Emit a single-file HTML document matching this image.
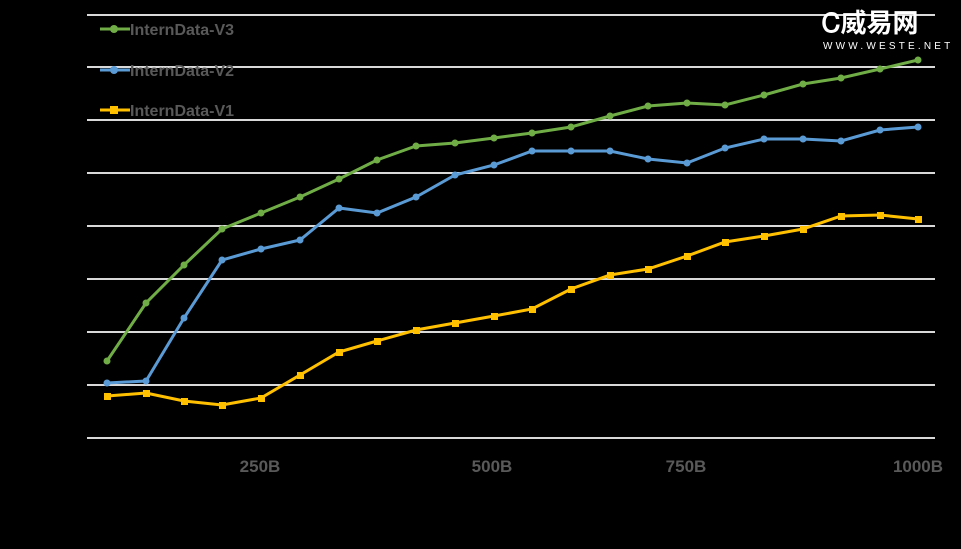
<!DOCTYPE html>
<html><head><meta charset="utf-8"><style>
html,body{margin:0;padding:0;background:#000;}
svg{display:block}
</style></head><body>
<svg width="961" height="549" viewBox="0 0 961 549" xmlns="http://www.w3.org/2000/svg" font-family="Liberation Sans, sans-serif">
<rect width="961" height="549" fill="#000"/>
<g stroke="#d9d9d9" stroke-width="2">
<line x1="87" y1="15" x2="935" y2="15"/>
<line x1="87" y1="67" x2="935" y2="67"/>
<line x1="87" y1="120" x2="935" y2="120"/>
<line x1="87" y1="173" x2="935" y2="173"/>
<line x1="87" y1="226" x2="935" y2="226"/>
<line x1="87" y1="279" x2="935" y2="279"/>
<line x1="87" y1="332" x2="935" y2="332"/>
<line x1="87" y1="385" x2="935" y2="385"/>
<line x1="87" y1="438" x2="935" y2="438"/>
</g>
<g font-size="17" fill="#595959" text-anchor="middle" font-weight="bold">
<text x="260" y="472">250B</text>
<text x="492" y="472">500B</text>
<text x="686" y="472">750B</text>
<text x="918" y="472">1000B</text>
</g>
<polyline fill="none" stroke="#ffc000" stroke-width="3" points="107,396 146,393 184,401 222,405 261,398 300,375 339,352 377,341 416,330 455,323 494,316 532,309 571,289 610,275 648,269 687,256 725,242 764,236 803,229 841,216 880,215 918,219"/>
<polyline fill="none" stroke="#5b9bd5" stroke-width="3" points="107,383 146,381 184,318 222,260 261,249 300,240 339,208 377,213 416,197 455,175 494,165 532,151 571,151 610,151 648,159 687,163 725,148 764,139 803,139 841,141 880,130 918,127"/>
<polyline fill="none" stroke="#70ad47" stroke-width="3" points="107,361 146,303 184,265 222,229 261,213 300,197 339,179 377,160 416,146 455,143 494,138 532,133 571,127 610,116 648,106 687,103 725,105 764,95 803,84 841,78 880,69 918,60"/>
<g fill="#ffc000">
<rect x="104" y="393" width="7" height="7"/><rect x="143" y="390" width="7" height="7"/><rect x="181" y="398" width="7" height="7"/><rect x="219" y="402" width="7" height="7"/><rect x="258" y="395" width="7" height="7"/><rect x="297" y="372" width="7" height="7"/><rect x="336" y="349" width="7" height="7"/><rect x="374" y="338" width="7" height="7"/><rect x="413" y="327" width="7" height="7"/><rect x="452" y="320" width="7" height="7"/><rect x="491" y="313" width="7" height="7"/><rect x="529" y="306" width="7" height="7"/><rect x="568" y="286" width="7" height="7"/><rect x="607" y="272" width="7" height="7"/><rect x="645" y="266" width="7" height="7"/><rect x="684" y="253" width="7" height="7"/><rect x="722" y="239" width="7" height="7"/><rect x="761" y="233" width="7" height="7"/><rect x="800" y="226" width="7" height="7"/><rect x="838" y="213" width="7" height="7"/><rect x="877" y="212" width="7" height="7"/><rect x="915" y="216" width="7" height="7"/>
</g>
<g fill="#5b9bd5">
<circle cx="107" cy="383" r="3.5"/><circle cx="146" cy="381" r="3.5"/><circle cx="184" cy="318" r="3.5"/><circle cx="222" cy="260" r="3.5"/><circle cx="261" cy="249" r="3.5"/><circle cx="300" cy="240" r="3.5"/><circle cx="339" cy="208" r="3.5"/><circle cx="377" cy="213" r="3.5"/><circle cx="416" cy="197" r="3.5"/><circle cx="455" cy="175" r="3.5"/><circle cx="494" cy="165" r="3.5"/><circle cx="532" cy="151" r="3.5"/><circle cx="571" cy="151" r="3.5"/><circle cx="610" cy="151" r="3.5"/><circle cx="648" cy="159" r="3.5"/><circle cx="687" cy="163" r="3.5"/><circle cx="725" cy="148" r="3.5"/><circle cx="764" cy="139" r="3.5"/><circle cx="803" cy="139" r="3.5"/><circle cx="841" cy="141" r="3.5"/><circle cx="880" cy="130" r="3.5"/><circle cx="918" cy="127" r="3.5"/>
</g>
<g fill="#70ad47">
<circle cx="107" cy="361" r="3.5"/><circle cx="146" cy="303" r="3.5"/><circle cx="184" cy="265" r="3.5"/><circle cx="222" cy="229" r="3.5"/><circle cx="261" cy="213" r="3.5"/><circle cx="300" cy="197" r="3.5"/><circle cx="339" cy="179" r="3.5"/><circle cx="377" cy="160" r="3.5"/><circle cx="416" cy="146" r="3.5"/><circle cx="455" cy="143" r="3.5"/><circle cx="494" cy="138" r="3.5"/><circle cx="532" cy="133" r="3.5"/><circle cx="571" cy="127" r="3.5"/><circle cx="610" cy="116" r="3.5"/><circle cx="648" cy="106" r="3.5"/><circle cx="687" cy="103" r="3.5"/><circle cx="725" cy="105" r="3.5"/><circle cx="764" cy="95" r="3.5"/><circle cx="803" cy="84" r="3.5"/><circle cx="841" cy="78" r="3.5"/><circle cx="880" cy="69" r="3.5"/><circle cx="918" cy="60" r="3.5"/>
</g>
<g font-size="16" fill="#595959" font-weight="bold">
<line x1="100" y1="29" x2="130" y2="29" stroke="#70ad47" stroke-width="3"/><circle cx="114" cy="29" r="4" fill="#70ad47"/>
<text x="130" y="35">InternData-V3</text>
<line x1="100" y1="70" x2="130" y2="70" stroke="#5b9bd5" stroke-width="3"/><circle cx="114" cy="70" r="4" fill="#5b9bd5"/>
<text x="130" y="76">InternData-V2</text>
<line x1="100" y1="110" x2="130" y2="110" stroke="#ffc000" stroke-width="3"/><rect x="110" y="106" width="8" height="8" fill="#ffc000"/>
<text x="130" y="116">InternData-V1</text>
</g>
<text x="822" y="32" font-size="26" font-weight="bold" fill="#fff" font-family="Liberation Sans, Noto Sans CJK SC, sans-serif">Ꮯ威易网</text>
<text x="823" y="49" font-size="10" fill="#fff" letter-spacing="3.2">WWW.WESTE.NET</text>
</svg>
</body></html>
